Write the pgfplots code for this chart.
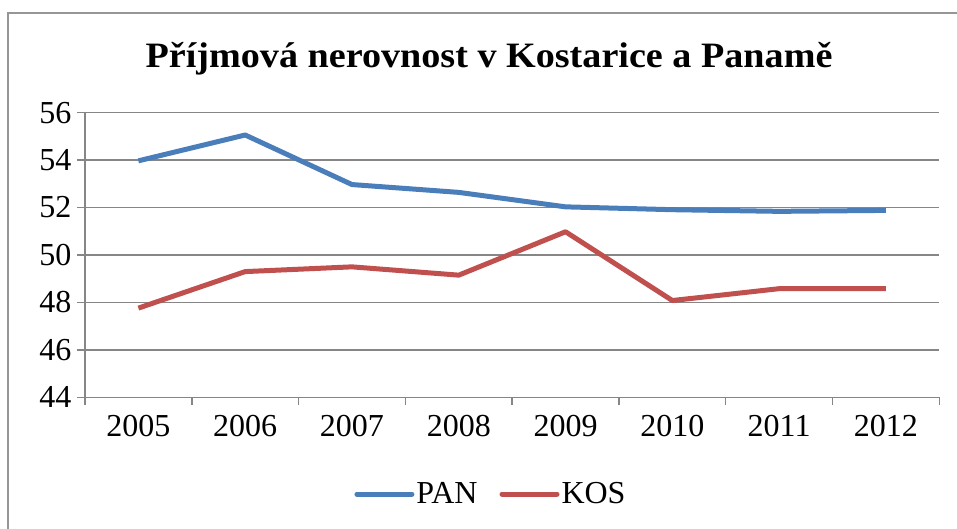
\documentclass[border=0pt]{standalone}
\usepackage{pgfplots}
\pgfplotsset{compat=1.18}
\usepackage{fontspec}
\setmainfont{Liberation Serif}
\definecolor{panblue}{RGB}{74,126,187}
\definecolor{kosred}{RGB}{192,80,77}
\definecolor{gridgray}{RGB}{134,134,134}
\definecolor{framegray}{RGB}{150,150,150}
\begin{document}
\begin{tikzpicture}[x=1pt,y=1pt]
\useasboundingbox (0,0) rectangle (957,529);
\draw[framegray, line width=2pt] (7.5,-5) -- (7.5,515.5) -- (965,515.5);
\node[font=\fontsize{35}{35}\selectfont\bfseries, anchor=base, inner sep=0pt] at (489,461.3) {\scalebox{1.09}[1.02]{Příjmová nerovnost v Kostarice a Panamě}};
\begin{axis}[
  at={(85pt,131.7pt)}, anchor=south west,
  scale only axis, width=854.3pt, height=284.6pt,
  xmin=0, xmax=8, ymin=44, ymax=56,
  xtick={0,1,2,3,4,5,6,7,8},
  x tick label as interval,
  xticklabels={2005,2006,2007,2008,2009,2010,2011,2012},
  ytick={44,46,48,50,52,54,56},
  axis lines*=left,
  axis line style={gridgray, line width=1.5pt, -},
  tick align=outside,
  major tick length=8pt,
  tick style={gridgray, line width=1.5pt},
  ymajorgrids,
  grid style={gridgray, line width=1.5pt},
  tick label style={font=\fontsize{32}{32}\selectfont},
  /pgf/number format/assume math mode=true,
  yticklabel style={xshift=-2pt},
  xticklabel style={yshift=-6pt},
  legend columns=2,
  legend style={at={(axis description cs:0.4752,-0.34)}, anchor=center, draw=none, fill=none,
    font=\fontsize{32}{32}\selectfont, /tikz/every even column/.append style={column sep=20pt}},
  legend image code/.code={\draw[#1, line cap=round] (0pt,0pt) -- (55pt,0pt);},
]
\addplot[panblue, line width=5pt, line join=round] coordinates {
  (0.5,53.97) (1.5,55.06) (2.5,52.97) (3.5,52.64) (4.5,52.03) (5.5,51.91) (6.5,51.84) (7.5,51.88)};
\addlegendentry{PAN}
\addplot[kosred, line width=5pt, line join=round] coordinates {
  (0.5,47.76) (1.5,49.30) (2.5,49.50) (3.5,49.15) (4.5,50.98) (5.5,48.08) (6.5,48.58) (7.5,48.58)};
\addlegendentry{KOS}
\end{axis}
\end{tikzpicture}
\end{document}
